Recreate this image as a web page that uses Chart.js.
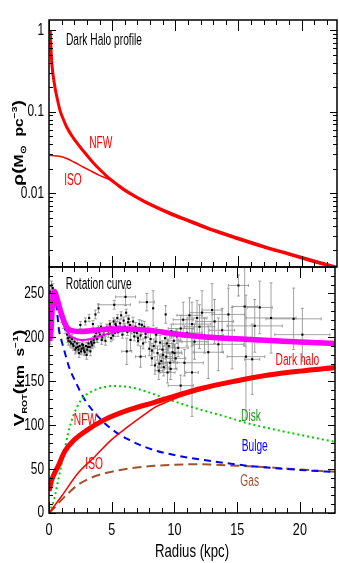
<!DOCTYPE html>
<html>
<head>
<meta charset="utf-8">
<script src="https://cdn.jsdelivr.net/npm/chart.js@4.4.1/dist/chart.umd.min.js"></script>
<style>
  body { margin: 0; background: #fff; width: 339px; height: 563px; overflow: hidden; position: relative; }
  canvas { position: absolute; left: 0; }
  #topPanel { top: 0; }
  #botPanel { top: 262px; }
</style>
</head>
<body>
<canvas id="topPanel" width="339" height="268"></canvas>
<canvas id="botPanel" width="339" height="301"></canvas>
<script>
// ---- density profile (top panel) ----
const rhoR   = [0.1, 0.15, 0.21, 0.3, 0.47, 0.65, 0.87, 1.1, 1.4, 1.8, 2.45, 3.0, 3.5, 4.0, 4.8, 6, 7, 8, 9.57, 11, 12.5, 14.8, 17, 19, 21, 22.8];
const rhoNFW = [1.0, 0.62, 0.42, 0.30, 0.20, 0.145, 0.104, 0.083, 0.065, 0.051, 0.0372, 0.0292, 0.0237, 0.0197, 0.0151, 0.0110, 0.0089, 0.0074, 0.00575, 0.00468, 0.0038, 0.00288, 0.00224, 0.00182, 0.00148, 0.00124];
const isoR   = [0, 0.5, 1, 1.4, 2, 2.7, 3.3, 4.0, 4.8, 6, 7, 8, 9.57, 11, 12.5, 14.8, 17, 19, 21, 22.8];
const rhoISO = [0.0292, 0.0288, 0.0280, 0.0267, 0.0240, 0.0210, 0.0188, 0.0166, 0.0146, 0.0106, 0.0086, 0.0071, 0.0055, 0.0045, 0.00365, 0.00276, 0.00215, 0.00175, 0.00142, 0.00119];
const rhoTickLabels = ['0.01', '0.1', '1'];

// ---- rotation curve (bottom panel) ----
const totR   = [0.05, 0.15, 0.25, 0.35, 0.45, 0.6, 0.8, 1.0, 1.2, 1.5, 2, 2.6, 3.3, 4, 5, 6, 7, 8, 9, 10, 12, 14, 16, 18, 20, 22.8];
const totV   = [196, 206, 232, 251, 252, 246, 236, 226, 218, 210, 207, 206.5, 207.5, 208.5, 209.5, 209.5, 209, 208, 206, 204, 201, 199, 197.5, 196, 194.5, 193];
const tot2R  = [1.2, 1.6, 2, 2.6, 3.3, 4, 5, 5.5, 6.5];
const tot2V  = [214, 203, 199, 197, 198, 201, 205, 206.5, 208.5];
const haloR  = [0, 0.2, 0.5, 0.75, 1.25, 2, 3, 4.4, 6.3, 8.4, 10, 12.2, 14.8, 17.5, 20, 22.8];
const haloV  = [25, 37, 47, 54, 70, 83, 94, 106, 117, 126, 133, 142, 150, 157, 161.5, 165.5];
const isoVR  = [0, 1, 2.32, 3.64, 4.95, 6.27, 7.6, 8.4, 9.5, 11, 13, 16, 19, 22.8];
const isoV   = [0, 19, 45.5, 64, 83, 98, 112, 120, 127, 135, 143, 152.5, 159, 163.5];
const diskR  = [0, 0.4, 0.74, 1.13, 1.53, 1.92, 2.58, 3.5, 4.3, 5, 6, 7, 8, 9, 10, 12, 14, 16, 18, 20, 22.8];
const diskV  = [0, 15, 38, 64, 91, 110, 129, 139, 143, 144.5, 144, 141.5, 137, 132, 127, 118, 110, 101.5, 95, 89, 81];
const bulgeR = [0.35, 0.5, 0.65, 0.8, 1.0, 1.2, 1.6, 2.06, 2.85, 3.9, 4.95, 6.27, 7.5, 8.5, 10, 12, 14, 16, 18, 20, 22.8];
const bulgeV = [252, 244, 228, 208, 196, 186, 166, 151, 129, 110, 96, 84, 76, 71, 66, 61, 57, 53.5, 51, 49, 46.5];
const gasR   = [0, 0.5, 1, 1.5, 2.3, 3.6, 5, 6.5, 8.4, 10, 11.5, 13, 15, 18, 20, 22.8];
const gasV   = [0, 7, 15, 22, 32, 41.5, 47, 51, 53.7, 55, 55.5, 55, 53.8, 51.5, 49.5, 47];

// observed velocities with errors
const obsR = [0.05,0.08,0.1,0.12,0.2,0.3,0.42,0.55,0.7,0.85,1.0,1.15,1.3,
  1.45,1.55,1.65,1.75,1.85,1.95,2.05,2.15,
  2.25,2.35,2.45,2.55,2.65,2.75,2.85,2.95,3.05,3.15,3.25,3.35,3.45,3.55,
  2.5,2.9,3.2,3.5,3.7,3.95,
  3.65,3.75,3.85,3.95,4.05,4.15,4.25,4.35,4.5,4.6,4.75,4.85,4.95,
  5.05,5.15,5.25,5.35,5.45,5.55,5.65,5.75,5.85,5.95,6.05,6.15,6.25,6.35,6.45,
  5.2,6.1,6.2,6.5,
  6.6,6.7,6.8,6.9,7.0,7.1,7.2,7.3,7.4,7.5,7.6,7.7,7.8,7.9,8.0,7.3,
  8.1,8.2,8.3,8.35,8.45,8.55,8.65,8.75,8.85,8.95,9.05,9.15,9.25,9.3,9.35,9.45,9.55,9.65,9.75,9.85,9.95,10.1,10.2,10.3,
  10.5,10.5,10.7,10.8,11.0,11.2,11.4,11.4,11.6,11.8,12.0,12.2,12.4,12.7,13.0,13.2,13.5,13.8,14.3,14.6,15.1,15.6,15.7,16.2,16.4,16.8,17.7,19.5,20.2,
  1.5,1.7,1.9,2.1,2.3,2.4,2.6,2.7,2.8,3.0,3.1,3.3,3.4,3.6,3.8,4.0,4.2,4.4,4.7,4.9,
  5.1,5.3,5.5,5.7,5.9,6.3,6.8,7.1,7.4,7.7,8.2,8.5,8.8,9.1,9.4,9.7,10.0];
const obsV = [232,252,198,242,259,256,249,243,236,229,222,215,209,
  203,196,200,193,198,190,195,188,
  193,186,190,184,192,188,183,190,186,193,189,195,191,197,
  214,218,222,215,226,233,
  201,205,198,209,203,212,200,207,196,211,204,215,199,
  208,218,205,213,222,209,216,225,203,219,212,228,206,221,214,
  237,246,184,197,
  209,218,201,212,205,196,215,202,209,193,212,200,240,206,187,178,
  198,176,233,190,168,203,182,162,194,173,186,166,199,226,178,160,190,171,207,183,196,176,201,188,
  145,210,220,171,205,225,160,215,195,222,212,228,202,183,231,218,192,208,226,199,259,235,178,175,213,234,222,221,203,
  199,195,192,186,189,182,187,191,185,180,189,184,193,194,199,206,197,203,209,212,
  202,215,206,211,208,217,206,199,214,204,185,195,170,180,193,164,182];
const obsDR = [0,0,0,0,0,0,0,0,0,0,0,0,0,
  0,0,0,0,0,0,0,0,
  0,0,0,0,0,0,0,0,0,0,0,0,0,0,
  0,0,0,0,0,0,
  0,0,0,0,0,0,0,0,0,0,0,0,0,
  0,0,0,0,0,0,0,0,0,0,0,0,0,0,0,
  1.3,0.8,0.4,0,
  0,0,0,0,0,0,0,0,0,0,0,0,0.6,0,0,0.4,
  0,0,0,0,0,0,0,0.3,0,0,0.4,0.5,0,0,0.5,0.6,0.5,0.6,0.4,0.7,0.5,0.8,0.6,0.8,
  1.0,1.0,0.8,1.5,1.2,1.0,0.5,1.5,1.0,0.8,1.2,1.0,1.5,1.2,0.8,1.5,2.0,1.0,1.3,1.5,0.8,1.0,1.5,0.6,2.2,1.0,2.0,2.2,2.2,
  0,0,0,0,0,0,0,0,0,0,0,0,0,0,0,0,0,0,0,0,
  0,0,0,0,0,0,0,0,0,0,0,0,0.3,0,0.4,0.5,0.6];
const obsDV = [8,6,6,6,5,5,5,5,5,5,5,5,5,
  5,5,5,5,5,5,5,5,
  4,4,4,4,4,4,4,4,4,4,4,4,4,4,
  4,4,4,4,5,5,
  4,4,4,4,4,4,4,4,5,4,4,4,4,
  4,4,4,4,4,4,4,4,4,4,4,4,4,4,4,
  5,10,15,12,
  5,5,5,5,5,5,5,5,6,6,6,6,10,6,8,12,
  8,8,20,8,10,8,8,10,8,8,10,10,8,10,10,12,8,10,8,10,8,12,8,10,
  12,15,20,15,15,20,50,25,20,20,25,25,20,30,30,25,30,25,30,35,12,45,70,40,30,30,40,35,30,
  5,5,5,5,5,5,5,5,5,5,5,5,5,5,5,5,5,5,5,5,
  5,5,5,5,5,5,5,5,5,5,8,8,10,10,10,12,10];
const vTickLabels = ['0', '50', '100', '150', '200', '250'];
const rTickLabels = ['0', '5', '10', '15', '20'];

const FONT = "'Liberation Sans', Arial, sans-serif";
Chart.defaults.font.family = FONT;
Chart.defaults.color = '#000';

function pts(xs, ys) { return xs.map((x, i) => ({ x: x, y: ys[i] })); }

// condensed / tall text like the original plot
function drawText(ctx, text, x, y, o) {
  ctx.save();
  ctx.translate(x, y);
  ctx.scale(o.sx || 0.85, o.sy || 1.4);
  ctx.font = (o.weight || 'normal') + ' ' + (o.size || 12) + 'px ' + FONT;
  ctx.fillStyle = o.color || '#000';
  ctx.textAlign = o.align || 'center';
  ctx.textBaseline = 'middle';
  ctx.fillText(text, 0, 0);
  ctx.restore();
}

// rotated axis title built from pieces: [text, size, baseline shift]
function sideTitle(ctx, parts, cx, cy) {
  ctx.save();
  ctx.translate(cx, cy);
  ctx.rotate(-Math.PI / 2);
  ctx.scale(1.3, 1);
  ctx.fillStyle = '#000';
  ctx.textBaseline = 'alphabetic';
  let w = 0;
  parts.forEach(p => { ctx.font = 'bold ' + p[1] + 'px ' + FONT; w += ctx.measureText(p[0]).width; });
  let x = -w / 2;
  parts.forEach(p => {
    ctx.font = 'bold ' + p[1] + 'px ' + FONT;
    ctx.fillText(p[0], x, 5 + p[2]);
    x += ctx.measureText(p[0]).width;
  });
  ctx.restore();
}

// frame and inward tick marks on all four sides
const frameTicks = {
  id: 'frameTicks',
  afterDatasetsDraw(chart, args, opts) {
    const { ctx, chartArea: a, scales: { x, y } } = chart;
    ctx.save();
    ctx.strokeStyle = '#000';
    ctx.lineWidth = 1;
    ctx.beginPath();
    for (let v = 0; v <= 22; v++) {
      const px = Math.round(x.getPixelForValue(v)) + 0.5;
      const len = v % 5 === 0 ? 11 : 5;
      ctx.moveTo(px, a.bottom); ctx.lineTo(px, a.bottom - len);
      ctx.moveTo(px, a.top); ctx.lineTo(px, a.top + len);
    }
    opts.yTicks.forEach(t => {
      const py = Math.round(y.getPixelForValue(t[0])) + 0.5;
      const len = t[1] ? 7 : 4;
      ctx.moveTo(a.left, py); ctx.lineTo(a.left + len, py);
      ctx.moveTo(a.right, py); ctx.lineTo(a.right - len, py);
    });
    ctx.stroke();
    ctx.lineWidth = 1.5;
    ctx.strokeRect(a.left, a.top, a.right - a.left, a.bottom - a.top);
    ctx.restore();
  }
};

// tick labels, placed from the chart's own scales
const tickText = {
  id: 'tickText',
  afterDraw(chart, args, opts) {
    const { ctx, chartArea: a, scales: { x, y } } = chart;
    opts.y.forEach(t => drawText(ctx, t, a.left - 5, y.getPixelForValue(parseFloat(t)), { size: 14, sx: 0.85, sy: 1.15, align: 'right' }));
    (opts.x || []).forEach(t => drawText(ctx, t, x.getPixelForValue(parseFloat(t)), a.bottom + 17.5, { size: 14, sx: 0.9, sy: 1.15 }));
  }
};

// text notes placed in data coordinates
const notes = {
  id: 'notes',
  afterDatasetsDraw(chart, args, opts) {
    const { ctx, scales: { x, y } } = chart;
    opts.items.forEach(n => {
      drawText(ctx, n.text, x.getPixelForValue(n.x), y.getPixelForValue(n.y), { size: 12, sx: 0.85, sy: 1.42, color: n.color, align: n.align });
    });
  }
};

const errorBars = {
  id: 'errorBars',
  beforeDatasetsDraw(chart) {
    const { ctx, chartArea: a, scales: { x, y } } = chart;
    ctx.save();
    ctx.beginPath();
    ctx.rect(a.left, a.top, a.right - a.left, a.bottom - a.top);
    ctx.clip();
    ctx.strokeStyle = '#8c8c8c';
    ctx.lineWidth = 0.8;
    ctx.beginPath();
    obsR.forEach((r, i) => {
      const px = x.getPixelForValue(r), py = y.getPixelForValue(obsV[i]);
      if (obsDR[i] > 0) {
        const x0 = x.getPixelForValue(r - obsDR[i]), x1 = x.getPixelForValue(r + obsDR[i]);
        ctx.moveTo(x0, py); ctx.lineTo(x1, py);
        ctx.moveTo(x0, py - 1.5); ctx.lineTo(x0, py + 1.5);
        ctx.moveTo(x1, py - 1.5); ctx.lineTo(x1, py + 1.5);
      }
      if (obsDV[i] > 0) {
        const y0 = y.getPixelForValue(obsV[i] - obsDV[i]), y1 = y.getPixelForValue(obsV[i] + obsDV[i]);
        ctx.moveTo(px, y0); ctx.lineTo(px, y1);
        ctx.moveTo(px - 1.5, y0); ctx.lineTo(px + 1.5, y0);
        ctx.moveTo(px - 1.5, y1); ctx.lineTo(px + 1.5, y1);
      }
    });
    ctx.stroke();
    ctx.restore();
  }
};

const axisTitles = {
  id: 'axisTitles',
  afterDraw(chart, args, opts) {
    const { ctx, chartArea: a } = chart;
    sideTitle(ctx, opts.parts, opts.x, opts.y);
    if (opts.bottom) {
      drawText(ctx, opts.bottom, (a.left + a.right) / 2, a.bottom + 39, { size: 15, sx: 0.88, sy: 1.18 });
    }
  }
};

const logTicks = [];
[-3, -2, -1, 0].forEach(e => {
  for (let m = 1; m <= 9; m++) {
    const v = m * Math.pow(10, e);
    if (v >= 0.00125 && v <= 1.33) logTicks.push([v, m === 1]);
  }
});
const linTicks = [];
for (let v = 0; v <= 280; v += 10) linTicks.push([v, v % 50 === 0]);

const curve = { pointRadius: 0, tension: 0.4, cubicInterpolationMode: 'monotone', fill: false };
function noPad(s) { s.paddingTop = 0; s.paddingBottom = 0; s.paddingLeft = 0; s.paddingRight = 0; }

new Chart(document.getElementById('topPanel'), {
  type: 'line',
  data: {
    datasets: [
      Object.assign({ data: pts(rhoR, rhoNFW), borderColor: '#ff0000', borderWidth: 3 }, curve),
      Object.assign({ data: pts(isoR, rhoISO), borderColor: '#ff0000', borderWidth: 1.5 }, curve)
    ]
  },
  options: {
    responsive: false,
    animation: false,
    layout: { padding: { left: 0, top: 20, right: 2, bottom: 1 } },
    plugins: {
      legend: { display: false },
      tooltip: { enabled: false },
      frameTicks: { yTicks: logTicks },
      tickText: { y: rhoTickLabels },
      notes: { items: [
        { text: 'Dark Halo profile', x: 1.34, y: 0.75, color: '#000', align: 'left' },
        { text: 'NFW', x: 4.1, y: 0.041, color: '#ff0000' },
        { text: 'ISO', x: 1.9, y: 0.0144, color: '#ff0000' }
      ] },
      axisTitles: { x: 18, y: 143, parts: [['ρ', 15, 0], ['(', 15, 0], ['M', 12, 0], ['⊙', 8, 3], ['  pc', 12, 0], ['−3', 8, -6], [')', 15, 0]] }
    },
    scales: {
      x: { type: 'linear', min: 0, max: 22.8, display: false },
      y: {
        type: 'logarithmic', min: 0.00125, max: 1.33,
        grid: { display: false, drawTicks: false },
        border: { display: false },
        ticks: { display: false },
        afterFit(s) { s.width = 49; noPad(s); }
      }
    }
  },
  plugins: [frameTicks, notes, tickText, axisTitles]
});

new Chart(document.getElementById('botPanel'), {
  type: 'line',
  data: {
    datasets: [
      { type: 'scatter', data: pts(obsR, obsV), pointStyle: 'rect', pointRadius: 1.5, backgroundColor: '#000', borderColor: '#000', borderWidth: 0, order: 9 },
      Object.assign({ data: pts(gasR, gasV), borderColor: '#a0522d', borderWidth: 2, borderDash: [9, 5], order: 6 }, curve),
      Object.assign({ data: pts(bulgeR, bulgeV), borderColor: '#0000ff', borderWidth: 2, borderDash: [7, 5], order: 5 }, curve),
      Object.assign({ data: pts(diskR, diskV), borderColor: '#00cc00', borderWidth: 2, borderDash: [2, 3], order: 4 }, curve),
      Object.assign({ data: pts(isoVR, isoV), borderColor: '#ff0000', borderWidth: 1.5, order: 3 }, curve),
      Object.assign({ data: pts(haloR, haloV), borderColor: '#ff0000', borderWidth: 5, order: 2 }, curve),
      Object.assign({ data: pts(tot2R, tot2V), borderColor: '#ff00ff', borderWidth: 2, order: 1 }, curve),
      Object.assign({ data: pts(totR, totV), borderColor: '#ff00ff', borderWidth: 5.5, order: 0 }, curve)
    ]
  },
  options: {
    responsive: false,
    animation: false,
    layout: { padding: { left: 0, top: 5, right: 2, bottom: 0 } },
    plugins: {
      legend: { display: false },
      tooltip: { enabled: false },
      frameTicks: { yTicks: linTicks },
      tickText: { y: vTickLabels, x: rTickLabels },
      notes: { items: [
        { text: 'Rotation curve', x: 1.34, y: 260, color: '#000', align: 'left' },
        { text: 'NFW', x: 2.9, y: 106, color: '#ff0000' },
        { text: 'ISO', x: 3.6, y: 55, color: '#ff0000' },
        { text: 'Dark halo', x: 19.8, y: 174, color: '#ff0000' },
        { text: 'Disk', x: 16.1, y: 110, color: '#1e9a1e' },
        { text: 'Bulge', x: 16.4, y: 75.5, color: '#0000ff' },
        { text: 'Gas', x: 16.0, y: 36, color: '#a0522d' }
      ] },
      axisTitles: { x: 19, y: 116, parts: [['V', 15, 0], ['ROT', 7, 3], ['(', 15, 0], ['km  s', 12, 0], ['−1', 8, -6], [')', 15, 0]], bottom: 'Radius (kpc)' }
    },
    scales: {
      x: {
        type: 'linear', min: 0, max: 22.8,
        grid: { display: false, drawTicks: false },
        border: { display: false },
        ticks: { display: false },
        afterFit(s) { s.height = 50; noPad(s); }
      },
      y: {
        min: 0, max: 280,
        grid: { display: false, drawTicks: false },
        border: { display: false },
        ticks: { display: false },
        afterFit(s) { s.width = 49; noPad(s); }
      }
    }
  },
  plugins: [errorBars, frameTicks, notes, tickText, axisTitles]
});
</script>
</body>
</html>
